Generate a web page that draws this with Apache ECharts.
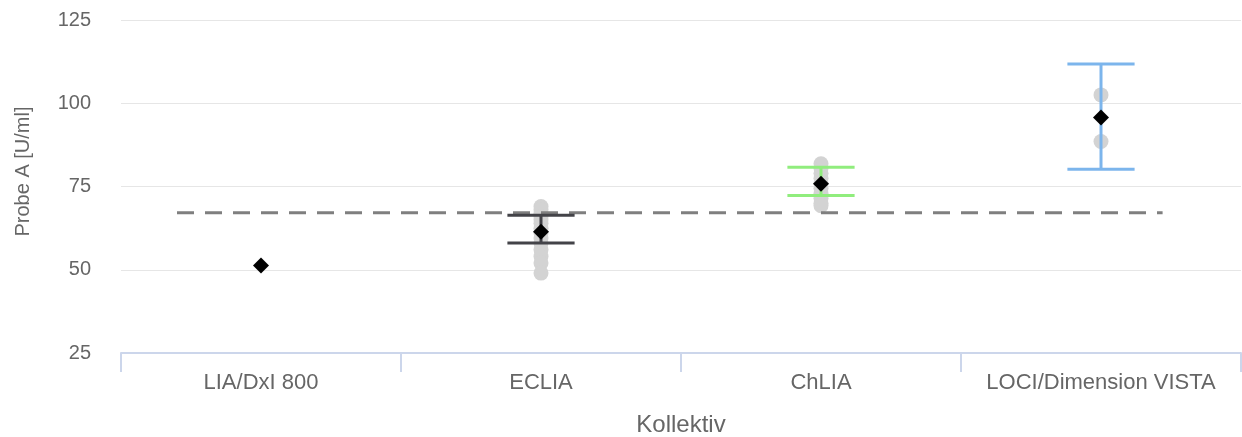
<!DOCTYPE html>
<html>
<head>
<meta charset="utf-8">
<script src="https://cdn.jsdelivr.net/npm/echarts@6/dist/echarts.min.js"></script>
<style>
html,body{margin:0;padding:0;background:#fff;}
#chart{width:1242px;height:437px;}
</style>
</head>
<body>
<div id="chart"></div>
<script>
const categories = ['LIA/DxI 800', 'ECLIA', 'ChLIA', 'LOCI/Dimension VISTA'];
const means = [51.3, 61.4, 75.8, 95.7];
const errLow = [null, 58.0, 72.3, 80.2];
const errHigh = [null, 66.4, 80.8, 111.8];
const errColors = ['#434348', '#434348', '#90ed7d', '#7cb5ec'];
const ecliaPoints = [69.0, 68.0, 67.0, 66.0, 65.0, 64.0, 62.5, 61.0, 59.5, 58.0, 56.0, 54.0, 52.0, 49.0];
const chliaPoints = [81.8, 80.5, 79.0, 77.5, 76.0, 74.5, 73.0, 71.5, 70.0, 69.2];
const lociPoints = [102.5, 88.5];
const refValue = 67.1;
const refRange = [0.2, 3.72];
const yTicks = [25, 50, 75, 100, 125];

const pointData = [];
ecliaPoints.forEach(v => pointData.push([1, v]));
chliaPoints.forEach(v => pointData.push([2, v]));
lociPoints.forEach(v => pointData.push([3, v]));

const errData = [];
for (let i = 0; i < categories.length; i++) {
  if (errLow[i] != null) errData.push([i, errLow[i], errHigh[i]]);
}

const chart = echarts.init(document.getElementById('chart'));
chart.setOption({
  animation: false,
  backgroundColor: '#ffffff',
  grid: { left: 121, right: 1, top: 20, bottom: 84, containLabel: false, outerBoundsMode: 'none' },
  xAxis: [{
    type: 'category',
    data: categories,
    boundaryGap: true,
    name: 'Kollektiv',
    nameLocation: 'middle',
    nameGap: 60,
    nameTextStyle: { color: '#666666', fontSize: 24, fontFamily: 'Liberation Sans' },
    axisLine: { show: true, lineStyle: { color: '#ccd6eb', width: 2 } },
    axisTick: { show: true, length: 19, interval: 0, alignWithLabel: false, lineStyle: { color: '#ccd6eb', width: 2 } },
    axisLabel: { color: '#666666', fontSize: 22, margin: 19, fontFamily: 'Liberation Sans', interval: 0 },
    splitLine: { show: false }
  }, {
    type: 'value',
    show: false,
    min: 0,
    max: 4
  }],
  yAxis: {
    type: 'value',
    min: yTicks[0],
    max: yTicks[yTicks.length - 1],
    interval: 25,
    name: 'Probe A [U/ml]',
    nameLocation: 'middle',
    nameGap: 88,
    nameTextStyle: { color: '#666666', fontSize: 20, fontFamily: 'Liberation Sans', padding: [0, 0, 0, 30] },
    axisLine: { show: false },
    axisTick: { show: false },
    axisLabel: { color: '#666666', fontSize: 20, margin: 30, fontFamily: 'Liberation Sans', padding: [4, 0, 0, 0] },
    splitLine: { show: true, lineStyle: { color: '#e6e6e6', width: 1 } }
  },
  series: [{
    type: 'scatter',
    xAxisIndex: 0,
    data: pointData,
    symbol: 'circle',
    symbolSize: 15,
    itemStyle: { color: '#d3d3d3', opacity: 1 },
    z: 1
  }, {
    type: 'line',
    xAxisIndex: 1,
    data: [[refRange[0], refValue], [refRange[1], refValue]],
    symbol: 'none',
    lineStyle: { color: '#7f7f7f', width: 3, type: [17, 11] },
    z: 2
  }, {
    type: 'custom',
    xAxisIndex: 0,
    data: errData,
    z: 3,
    renderItem: function (params, api) {
      const idx = api.value(0);
      const lo = api.coord([idx, api.value(1)]);
      const hi = api.coord([idx, api.value(2)]);
      const half = api.size([1, 0])[0] * 0.12;
      const color = errColors[idx];
      const style = { stroke: color, lineWidth: 3 };
      return {
        type: 'group',
        children: [
          { type: 'line', shape: { x1: lo[0], y1: lo[1], x2: hi[0], y2: hi[1] }, style: style },
          { type: 'line', shape: { x1: lo[0] - half, y1: lo[1], x2: lo[0] + half, y2: lo[1] }, style: style },
          { type: 'line', shape: { x1: hi[0] - half, y1: hi[1], x2: hi[0] + half, y2: hi[1] }, style: style }
        ]
      };
    }
  }, {
    type: 'scatter',
    xAxisIndex: 0,
    data: means.map((v, i) => [i, v]),
    symbol: 'diamond',
    symbolSize: [16, 16],
    itemStyle: { color: '#000000', opacity: 1 },
    z: 4
  }]
});
</script>
</body>
</html>
